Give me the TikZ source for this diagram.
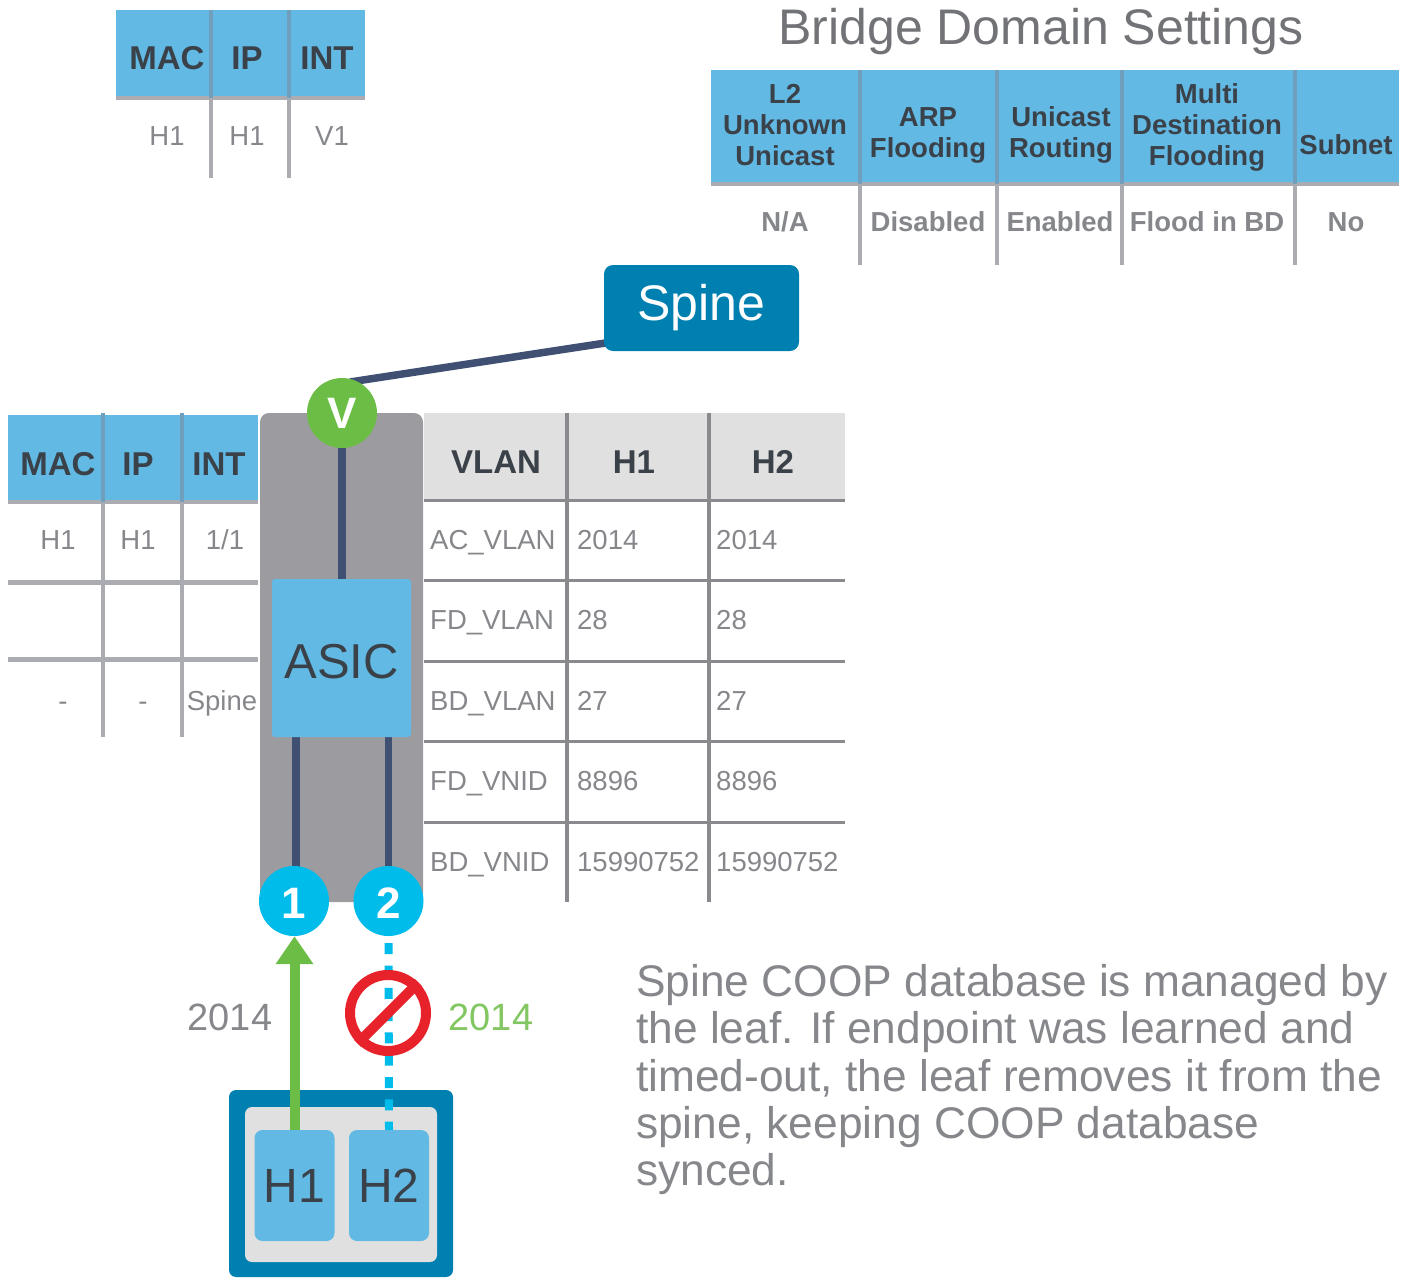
\documentclass[tikz,border=0pt]{standalone}
\usepackage{fontspec}
\setmainfont{Liberation Sans}
\usetikzlibrary{arrows.meta}
\pgfdeclarelayer{back}
\pgfdeclarelayer{conn}
\pgfsetlayers{back,conn,main}
\definecolor{hblue}{HTML}{62B9E4}
\definecolor{dblue}{HTML}{0080B0}
\definecolor{navy}{HTML}{3F5072}
\definecolor{sgray}{HTML}{9C9CA0}
\definecolor{lgray}{HTML}{E0E0E0}
\definecolor{rule}{HTML}{ABABB2}
\definecolor{rulehd}{HTML}{6F9FBC}
\definecolor{ink}{HTML}{3A4149}
\definecolor{body}{HTML}{85878B}
\definecolor{grn}{HTML}{6CBD45}
\definecolor{cyn}{HTML}{00BCEB}
\definecolor{redc}{HTML}{E8222A}
\newcommand{\fs}[1]{\fontsize{#1}{#1}\selectfont}
\tikzset{
  x=1pt,y=-1pt,
  hd/.style={font=\fs{33}\bfseries,text=ink,inner sep=0pt,align=center},
  hds/.style={font=\fontsize{27.5}{31}\selectfont\bfseries,text=ink,inner sep=0pt,align=center},
  bd/.style={font=\fs{27.5},text=body,inner sep=0pt,text height=19pt,text depth=0pt},
  bdb/.style={font=\fs{27.5}\bfseries,text=body,inner sep=0pt,text height=19pt,text depth=0pt},
  lft/.style={bd,anchor=west},
  vsep/.style={draw=rule,line width=4pt},
  hsep/.style={draw=rule,line width=5pt},
  rsep/.style={draw=rule!80!black,line width=3pt},
  tlabel/.style={font=\fs{38},inner sep=0pt},
  port/.style={circle,minimum size=70pt,inner sep=0pt,font=\fs{44}\bfseries,text=white},
  hostbox/.style={fill=hblue,rounded corners=8pt,minimum width=80pt,minimum height=111pt,inner sep=0pt,font=\fs{48},text=ink},
  link/.style={draw=navy,line width=7.5pt},
}
\begin{document}
\begin{tikzpicture}
\useasboundingbox (0,0) rectangle (1412,1277);

% ---- top table
\fill[hblue] (116,10) rectangle (365,97);
\draw[hsep,line width=4pt] (116,98) -- (365,98);
\draw[rulehd,line width=4pt] (211,10) -- (211,98) (289,10) -- (289,98);
\draw[vsep] (211,98) -- (211,178) (289,98) -- (289,178);
\node[hd] (tm) at (167,58) {MAC};
\node[hd] (ti) at (247,58) {IP};
\node[hd] (tn) at (327,58) {INT};
\node[bd] (tm1) at (167,136) {H1};
\node[bd] (ti1) at (247,136) {H1};
\node[bd] (tn1) at (332,136) {V1};

% ---- bridge domain settings
\node[font=\fs{50},text=body!85!black,inner sep=0pt] (title) at (1041,32) {Bridge Domain Settings};
\fill[hblue] (711,70) rectangle (1399,183);
\draw[hsep,line width=4pt] (711,184) -- (1399,184);
\foreach \xx in {860,997,1122,1295}{
  \draw[rulehd,line width=4pt] (\xx,70) -- (\xx,184);
  \draw[vsep] (\xx,184) -- (\xx,265);
}
\node[hds] (b1) at (785,125.5) {L2\\Unknown\\Unicast};
\node[hds] (b2) at (928,135) {ARP\\Flooding};
\node[hds] (b3) at (1061,135) {Unicast\\Routing};
\node[hds] (b4) at (1207,127.5) {Multi\\Destination\\Flooding};
\node[hds] (b5) at (1346,145) {Subnet};
\node[bdb] (c1) at (785,222) {N/A};
\node[bdb] (c2) at (928,222) {Disabled};
\node[bdb] (c3) at (1060,222) {Enabled};
\node[bdb] (c4) at (1207,222) {Flood in BD};
\node[bdb] (c5) at (1346,222) {No};

% ---- spine
\node[fill=dblue,rounded corners=9pt,minimum width=195pt,minimum height=86pt,inner sep=0pt,font=\fs{50},text=white] (spine) at (701.5,308) {Spine};

% ---- left table
\fill[hblue] (8,415) rectangle (258,500);
\draw[hsep,line width=4pt] (8,502) -- (258,502);
\draw[rulehd,line width=4pt] (103,413) -- (103,502) (182,413) -- (182,502);
\draw[vsep] (103,502) -- (103,737) (182,502) -- (182,737);
\draw[hsep] (8,582) -- (258,582) (8,659) -- (258,659);
\node[hd] (lm) at (58,464) {MAC};
\node[hd] (li) at (138,464) {IP};
\node[hd] (ln) at (219,464) {INT};
\node[bd] (l11) at (58,540) {H1};
\node[bd] (l12) at (138,540) {H1};
\node[bd] (l13) at (225,540) {1/1};
\node[bd] (l31) at (63,701) {-};
\node[bd] (l32) at (143,701) {-};
\node[bd] (l33) at (222,701) {Spine};

% ---- right table
\fill[lgray] (424,413) rectangle (845,499);
\draw[rsep] (424,500) -- (845,500) (424,580) -- (845,580) (424,661) -- (845,661) (424,741) -- (845,741) (424,822) -- (845,822);
\draw[draw=rule!80!black,line width=4pt] (567,413) -- (567,902) (709,413) -- (709,902);
\node[hd] (rv) at (496,462) {VLAN};
\node[hd] (rh1) at (634,462) {H1};
\node[hd] (rh2) at (773,462) {H2};
\node[lft] (r1a) at (430,540) {AC\_VLAN};
\node[lft] (r1b) at (577,540) {2014};
\node[lft] (r1c) at (716,540) {2014};
\node[lft] (r2a) at (430,620) {FD\_VLAN};
\node[lft] (r2b) at (577,620) {28};
\node[lft] (r2c) at (716,620) {28};
\node[lft] (r3a) at (430,701) {BD\_VLAN};
\node[lft] (r3b) at (577,701) {27};
\node[lft] (r3c) at (716,701) {27};
\node[lft] (r4a) at (430,781) {FD\_VNID};
\node[lft] (r4b) at (577,781) {8896};
\node[lft] (r4c) at (716,781) {8896};
\node[lft] (r5a) at (430,862) {BD\_VNID};
\node[lft] (r5b) at (577,862) {15990752};
\node[lft] (r5c) at (716,862) {15990752};

% ---- switch
\begin{pgfonlayer}{back}
\node[fill=sgray,rounded corners=9pt,minimum width=163pt,minimum height=489pt,inner sep=0pt] (switch) at (341.5,657.5) {};
\node[fill=dblue,rounded corners=7pt,minimum width=224pt,minimum height=187pt,inner sep=0pt] (server) at (341,1183.5) {};
\node[fill=lgray,rounded corners=7pt,minimum width=192pt,minimum height=155pt,inner sep=0pt] (serverin) at (341,1184.5) {};
\end{pgfonlayer}
\node[fill=hblue,rounded corners=3pt,minimum width=139pt,minimum height=158pt,inner sep=0pt,font=\fs{49},text=ink,text height=40pt,text depth=0pt] (asic) at (341.5,658) {ASIC};
\node[port,fill=grn] (v) at (342,413) {V};
\node[port,fill=cyn,text height=35pt,text depth=0pt] (p1) at (294,901) {1};
\node[port,fill=cyn,text height=35pt,text depth=0pt] (p2) at (388.5,901) {2};
\node[hostbox] (h1) at (294.5,1185.5) {H1};
\node[hostbox] (h2) at (389,1185.5) {H2};

% ---- connectors
\coordinate (vtop) at (350,382);
\coordinate (spl) at (612,342);
\begin{pgfonlayer}{conn}
\draw[link] (spl) -- (vtop);
\draw[link] (v) -- (v |- asic.north);
\draw[link] ([xshift=2pt]p1.center |- asic.south) -- ([xshift=2pt]p1.center);
\draw[link] (p2 |- asic.south) -- (p2);
\draw[draw=cyn,line width=8pt,dash pattern=on 11pt off 11.3pt] (p2.south) ++(0,7) -- (h2.north);
\end{pgfonlayer}
\draw[draw=grn,line width=10pt,-{Triangle[width=36pt,length=28pt]}] (h1.north) -- (h1.north |- p1.south);

% ---- forbidden sign
\node[circle,draw=redc,line width=10pt,minimum size=76pt,inner sep=0pt] (nosign) at (388,1013) {};
\draw[draw=redc,line width=10pt] (nosign.south west) -- (nosign.north east);

% ---- labels
\node[tlabel,text=body] (v1) at (230,1017) {2014};
\node[tlabel,text=grn!85!white] (v2) at (491,1017) {2014};
\node[anchor=north west,inner sep=0pt,align=left,text=body,font=\fontsize{44.3}{47.4}\selectfont] (para) at (636,964) {Spine COOP database is managed by\\the leaf. If endpoint was learned and\\timed-out, the leaf removes it from the\\spine, keeping COOP database\\synced.};
\end{tikzpicture}
\end{document}
